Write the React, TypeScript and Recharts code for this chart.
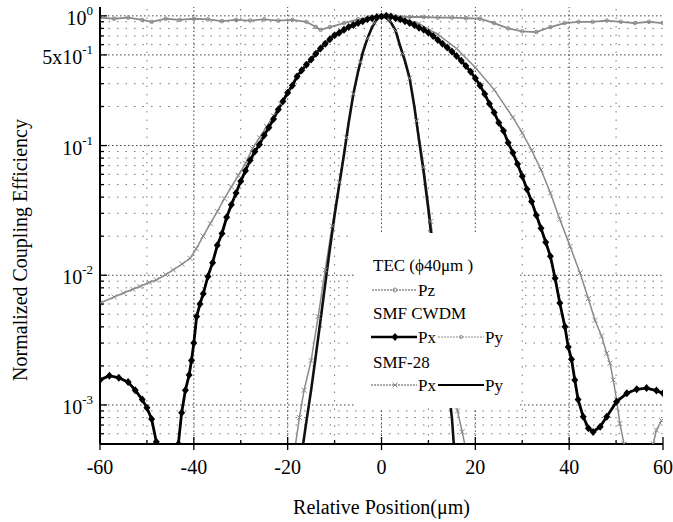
import React from "react";
import { LineChart, Line, XAxis, YAxis, ReferenceLine } from "recharts";

// [position (um), normalized coupling efficiency]
const TEC_PZ: [number, number][] = [
  [-60, 0.97], [-57, 0.95], [-54, 0.97], [-51, 0.93], [-49, 0.9], [-46, 0.95],
  [-43, 0.93], [-40, 0.95], [-37, 0.94], [-34, 0.91], [-31, 0.93], [-28, 0.92],
  [-25, 0.94], [-22, 0.92], [-19, 0.93], [-16, 0.9], [-14, 0.82], [-13, 0.78],
  [-11, 0.82], [-8, 0.88], [-5, 0.94], [-2, 0.98], [0, 1.0], [3, 0.99], [6, 0.98],
  [9, 0.98], [12, 0.97], [15, 0.97], [18, 0.96], [21, 0.95], [24, 0.88], [27, 0.8],
  [30, 0.76], [33, 0.75], [36, 0.82], [39, 0.88], [42, 0.9], [45, 0.9], [48, 0.92],
  [51, 0.9], [54, 0.88], [57, 0.9], [60, 0.88],
];

const CWDM_PX: [number, number][] = [
  [-60, 1.56e-3], [-58, 1.68e-3], [-56, 1.62e-3], [-54, 1.5e-3], [-52.5, 1.3e-3],
  [-51, 1.1e-3], [-50, 9.5e-4], [-49, 7.8e-4], [-48, 5.2e-4], [-47, 2.5e-4],
  [-45.5, 8e-5], [-44, 2.5e-4], [-43.3, 5e-4], [-42.6, 8.7e-4], [-41.8, 1.3e-3],
  [-41, 1.7e-3], [-40.5, 2.2e-3], [-40, 3.0e-3], [-39.4, 4.8e-3], [-38.7, 6e-3],
  [-38, 7.2e-3], [-37, 9.8e-3], [-36, 0.0125], [-35, 0.017], [-34, 0.021],
  [-33, 0.028], [-32, 0.035], [-31, 0.043], [-30, 0.053], [-29, 0.064],
  [-28, 0.077], [-27, 0.09], [-26, 0.102], [-25, 0.12], [-24, 0.138], [-23, 0.16],
  [-22, 0.19], [-21, 0.22], [-20, 0.255], [-19, 0.29], [-18, 0.34], [-17, 0.38],
  [-16, 0.42], [-15, 0.46], [-14, 0.51], [-13, 0.56], [-12, 0.61], [-11, 0.66],
  [-10, 0.71], [-9, 0.74], [-8, 0.78], [-7, 0.82], [-6, 0.85], [-5, 0.88],
  [-4, 0.91], [-3, 0.94], [-2, 0.96], [-1, 0.98], [0, 0.99], [1, 1.0], [2, 0.99],
  [3, 0.96], [4, 0.94], [5, 0.91], [6, 0.88], [7, 0.85], [8, 0.81], [9, 0.78],
  [10, 0.74], [11, 0.7], [12, 0.65], [13, 0.61], [14, 0.57], [15, 0.53], [16, 0.49],
  [17, 0.45], [18, 0.41], [19, 0.37], [20, 0.33], [21, 0.29], [22, 0.25], [23, 0.21],
  [24, 0.18], [25, 0.15], [26, 0.13], [27, 0.105], [28, 0.088], [29, 0.072],
  [30, 0.058], [31, 0.046], [32, 0.037], [33, 0.029], [34, 0.023], [35, 0.018],
  [36, 0.014], [37, 9.5e-3], [38, 6.1e-3], [39.1, 4.0e-3], [39.8, 2.8e-3],
  [40.5, 2.25e-3], [41.2, 1.56e-3], [41.9, 1.1e-3], [43, 8.1e-4], [44.1, 6.6e-4],
  [45.1, 6.2e-4], [46.6, 6.8e-4], [48, 8.1e-4], [50.1, 1.06e-3], [52.3, 1.23e-3],
  [54.4, 1.32e-3], [56.5, 1.35e-3], [58.6, 1.29e-3], [60, 1.23e-3],
];

const CWDM_PY: [number, number][] = [
  [-19.5, 2e-4], [-18.5, 4.5e-4], [-17.5, 8e-4], [-16.5, 1.3e-3], [-15, 2.2e-3],
  [-13.5, 4.8e-3], [-12, 0.011], [-10.5, 0.024], [-9, 0.052], [-7.5, 0.115],
  [-6, 0.25], [-4.5, 0.44], [-3, 0.67], [-1.5, 0.88], [0, 1.0], [1.5, 0.93],
  [3, 0.77], [4.5, 0.51], [6, 0.33], [7.5, 0.155], [9, 0.068], [10.5, 0.026],
  [12, 0.0095], [13.5, 3.4e-3], [15, 1.5e-3], [16.2, 9e-4], [17.2, 6.2e-4],
  [18, 4.5e-4], [19, 2e-4],
];

const SMF28_PX: [number, number][] = [
  [-60, 6.1e-3], [-57, 6.8e-3], [-55, 7.3e-3], [-53, 7.8e-3], [-51.5, 8.2e-3],
  [-49.5, 8.8e-3], [-48, 9.2e-3], [-46, 0.0101], [-44.4, 0.011], [-42.5, 0.0122],
  [-40.8, 0.0135], [-39.5, 0.016], [-38, 0.02], [-36.5, 0.025], [-35, 0.031],
  [-33.5, 0.039], [-32, 0.048], [-30.5, 0.059], [-29, 0.073], [-27.5, 0.095],
  [-26, 0.115], [-24.5, 0.14], [-23, 0.17], [-21.5, 0.21], [-20, 0.26],
  [-18, 0.34], [-16, 0.42], [-14, 0.51], [-12, 0.61], [-10, 0.71], [-8, 0.79],
  [-6, 0.86], [-4, 0.92], [-2, 0.97], [0, 0.99], [2, 1.0], [4, 0.97], [8, 0.87],
  [12, 0.72], [16, 0.56], [20, 0.4], [24, 0.27], [28, 0.165], [30, 0.125],
  [32, 0.092], [34, 0.065], [36, 0.043], [38, 0.027], [40.2, 0.0167],
  [42.3, 0.0104], [44.1, 6.6e-3], [45.5, 4.5e-3], [46.9, 3.4e-3], [48, 2.5e-3],
  [48.7, 2.1e-3], [49.4, 1.56e-3], [50.1, 1.1e-3], [50.8, 7.2e-4], [51.7, 5e-4],
  [53, 2e-4], [55, 6e-5], [57, 2.5e-4], [57.9, 5e-4], [58.6, 6.4e-4], [59.7, 7.6e-4],
];

const SMF28_PY: [number, number][] = [
  [-18, 2e-4], [-17, 4.2e-4], [-16, 7.5e-4], [-15, 1.3e-3], [-14, 2.4e-3],
  [-13, 4.5e-3], [-12, 8.5e-3], [-11, 0.016], [-10, 0.029], [-9, 0.05],
  [-8, 0.085], [-7, 0.15], [-6, 0.25], [-5, 0.37], [-4, 0.52], [-3, 0.67],
  [-2, 0.82], [-1, 0.94], [0, 1.0], [1, 0.97], [2, 0.89], [3, 0.77], [4, 0.58],
  [5, 0.45], [6, 0.33], [7, 0.2], [8, 0.11], [9, 0.062], [10, 0.032], [11, 0.015],
  [12, 8e-3], [13, 3.7e-3], [14, 1.7e-3], [15, 8e-4], [15.5, 4.5e-4], [16, 2e-4],
];

const X_TICKS = [-60, -50, -40, -30, -20, -10, 0, 10, 20, 30, 40, 50, 60];
const X_GRID_MAJOR = [-40, -20, 0, 20, 40];
const X_GRID_MINOR = [-50, -30, -10, 10, 30, 50];
const Y_GRID_MAJOR = [1, 0.5, 0.1, 0.01, 0.001];
const Y_GRID_MINOR = [
  0.9, 0.8, 0.7, 0.6, 0.4, 0.3, 0.2, 0.09, 0.08, 0.07, 0.06, 0.05, 0.04, 0.03, 0.02,
  0.009, 0.008, 0.007, 0.006, 0.005, 0.004, 0.003, 0.002, 9e-4, 8e-4, 7e-4, 6e-4,
];
const Y_TICKS = [...Y_GRID_MAJOR, ...Y_GRID_MINOR];
const Y_LABELS: Record<string, [string, string]> = {
  "1": ["10", "0"],
  "0.5": ["5x10", "-1"],
  "0.1": ["10", "-1"],
  "0.01": ["10", "-2"],
  "0.001": ["10", "-3"],
};
const Y_DOMAIN: [number, number] = [5e-4, 1.17];

const SERIF = "'Liberation Serif', 'DejaVu Serif', serif";
const GRAY = "#8a8a8a";

const toPoints = (pairs: [number, number][]) => pairs.map(([x, v]) => ({ x, v }));

function BottomTick(props: any) {
  const { x, y, payload } = props;
  const major = payload.value % 20 === 0;
  return (
    <g>
      <line x1={x} x2={x} y1={y - (major ? 7 : 4)} y2={y + (major ? 6 : 0)} stroke="#000" strokeWidth={1.3} />
      {major && (
        <text x={x} y={y + 30} textAnchor="middle" fontSize={20} fontFamily={SERIF} fill="#000">
          {payload.value}
        </text>
      )}
    </g>
  );
}

function TopTick(props: any) {
  const { x, y, payload } = props;
  const major = payload.value % 20 === 0;
  return <line x1={x} x2={x} y1={y} y2={y + (major ? 6 : 3)} stroke="#222" strokeWidth={1.2} />;
}

function LeftTick(props: any) {
  const { x, y, payload } = props;
  const lab = Y_LABELS[String(payload.value)];
  return (
    <g>
      <line x1={x} x2={x + (lab ? 7 : 4)} y1={y} y2={y} stroke="#000" strokeWidth={1.3} />
      {lab && (
        <text x={x - 7} y={y + 9} textAnchor="end" fontSize={20} fontFamily={SERIF} fill="#000">
          <tspan>{lab[0]}</tspan>
          <tspan dy={-10} fontSize={13}>{lab[1]}</tspan>
        </text>
      )}
    </g>
  );
}

function RightTick(props: any) {
  const { x, y, payload } = props;
  const major = !!Y_LABELS[String(payload.value)];
  return <line x1={x} x2={x - (major ? 6 : 3)} y1={y} y2={y} stroke="#222" strokeWidth={1.2} />;
}

const diamondDot = (p: any) => {
  const { cx, cy, index } = p;
  if (cx == null || cy == null) return <g key={index} />;
  return (
    <path key={index} d={`M${cx},${cy - 4}L${cx + 3.5},${cy}L${cx},${cy + 4}L${cx - 3.5},${cy}Z`} fill="#000" />
  );
};

const crossDot = (p: any) => {
  const { cx, cy, index } = p;
  if (cx == null || cy == null) return <g key={index} />;
  return (
    <path
      key={index}
      d={`M${cx - 2.5},${cy - 2.5}L${cx + 2.5},${cy + 2.5}M${cx - 2.5},${cy + 2.5}L${cx + 2.5},${cy - 2.5}`}
      stroke={GRAY}
      strokeWidth={1}
    />
  );
};

const ringDot = (p: any) => {
  const { cx, cy, index } = p;
  if (cx == null || cy == null) return <g key={index} />;
  return <circle key={index} cx={cx} cy={cy} r={1.8} fill="none" stroke={GRAY} strokeWidth={1} />;
};

function Legend() {
  const text = { fontSize: 17, fontFamily: SERIF, fill: "#000" };
  return (
    <svg width={163} height={175} style={{ position: "absolute", left: 355, top: 233 }}>
      <rect x={0} y={0} width={163} height={175} fill="#fff" />
      <text x={18} y={38} {...text}>TEC (ϕ40μm )</text>

      <line x1={17} x2={62} y1={57} y2={57} stroke={GRAY} strokeWidth={1.5} strokeDasharray="2 1" />
      <circle cx={40} cy={57} r={2} fill="none" stroke={GRAY} />
      <text x={63} y={63} {...text}>Pz</text>

      <text x={18} y={86} {...text}>SMF CWDM</text>

      <line x1={16} x2={62} y1={104} y2={104} stroke="#000" strokeWidth={2.5} />
      <path d="M40,100L43.5,104L40,108L36.5,104Z" fill="#000" />
      <text x={63} y={110} {...text}>Px</text>
      <line x1={83} x2={129} y1={104} y2={104} stroke={GRAY} strokeWidth={1.2} strokeDasharray="2 1" />
      <circle cx={106} cy={104} r={1.5} fill="none" stroke={GRAY} />
      <text x={130} y={110} {...text}>Py</text>

      <text x={18} y={135} {...text}>SMF-28</text>

      <line x1={16} x2={62} y1={152} y2={152} stroke={GRAY} strokeWidth={1.5} strokeDasharray="2 1" />
      <path d="M37.5,149.5L42.5,154.5M37.5,154.5L42.5,149.5" stroke={GRAY} />
      <text x={63} y={158} {...text}>Px</text>
      <line x1={83} x2={129} y1={152} y2={152} stroke="#000" strokeWidth={2.2} />
      <text x={130} y={158} {...text}>Py</text>
    </svg>
  );
}

export default function App() {
  return (
    <div style={{ position: "absolute", left: 0, top: 0, width: 673, height: 522, background: "#fff" }}>
      <LineChart width={673} height={522} margin={{ top: 7, right: 10, bottom: 18, left: 10 }}>
        <XAxis
          xAxisId="bottom"
          dataKey="x"
          type="number"
          domain={[-60, 60]}
          ticks={X_TICKS}
          interval={0}
          height={60}
          tickSize={0}
          tickMargin={0}
          tickLine={false}
          tick={<BottomTick />}
          axisLine={{ stroke: "#000", strokeWidth: 2 }}
          allowDataOverflow
        />
        <XAxis
          xAxisId="top"
          orientation="top"
          type="number"
          domain={[-60, 60]}
          ticks={X_TICKS}
          interval={0}
          height={0}
          tickSize={0}
          tickMargin={0}
          tickLine={false}
          tick={<TopTick />}
          axisLine={{ stroke: "#333", strokeWidth: 1.5 }}
          allowDataOverflow
        />
        <YAxis
          yAxisId="left"
          type="number"
          scale="log"
          domain={Y_DOMAIN}
          ticks={Y_TICKS}
          interval={0}
          width={90}
          tickSize={0}
          tickMargin={0}
          tickLine={false}
          tick={<LeftTick />}
          axisLine={{ stroke: "#000", strokeWidth: 2 }}
          allowDataOverflow
        />
        <YAxis
          yAxisId="right"
          orientation="right"
          type="number"
          scale="log"
          domain={Y_DOMAIN}
          ticks={Y_TICKS}
          interval={0}
          width={0}
          tickSize={0}
          tickMargin={0}
          tickLine={false}
          tick={<RightTick />}
          axisLine={{ stroke: "#333", strokeWidth: 1.5 }}
          allowDataOverflow
        />

        {Y_GRID_MINOR.map((v) => (
          <ReferenceLine key={`ym${v}`} xAxisId="bottom" yAxisId="left" y={v} stroke="#777" strokeDasharray="1.5 7" />
        ))}
        {X_GRID_MINOR.map((v) => (
          <ReferenceLine key={`xm${v}`} xAxisId="bottom" yAxisId="left" x={v} stroke="#777" strokeDasharray="1.5 7" />
        ))}
        {Y_GRID_MAJOR.map((v) => (
          <ReferenceLine key={`yM${v}`} xAxisId="bottom" yAxisId="left" y={v} stroke="#444" strokeDasharray="1.5 2.5" />
        ))}
        {X_GRID_MAJOR.map((v) => (
          <ReferenceLine key={`xM${v}`} xAxisId="bottom" yAxisId="left" x={v} stroke="#444" strokeDasharray="1.5 2.5" />
        ))}

        <Line
          xAxisId="bottom"
          yAxisId="left"
          data={toPoints(TEC_PZ)}
          dataKey="v"
          stroke={GRAY}
          strokeWidth={1.8}
          dot={ringDot}
          isAnimationActive={false}
        />
        <Line
          xAxisId="bottom"
          yAxisId="left"
          data={toPoints(SMF28_PX)}
          dataKey="v"
          stroke={GRAY}
          strokeWidth={1.5}
          dot={crossDot}
          isAnimationActive={false}
        />
        <Line
          xAxisId="bottom"
          yAxisId="left"
          data={toPoints(CWDM_PY)}
          dataKey="v"
          stroke={GRAY}
          strokeWidth={1.5}
          dot={crossDot}
          isAnimationActive={false}
        />
        <Line
          xAxisId="bottom"
          yAxisId="left"
          data={toPoints(SMF28_PY)}
          dataKey="v"
          stroke="#111"
          strokeWidth={2.6}
          dot={false}
          isAnimationActive={false}
        />
        <Line
          xAxisId="bottom"
          yAxisId="left"
          data={toPoints(CWDM_PX)}
          dataKey="v"
          stroke="#000"
          strokeWidth={2.8}
          dot={diamondDot}
          isAnimationActive={false}
        />
      </LineChart>

      <Legend />

      <div
        style={{
          position: "absolute",
          left: 100,
          top: 496,
          width: 563,
          textAlign: "center",
          fontFamily: SERIF,
          fontSize: 20,
          lineHeight: "22px",
          color: "#000",
        }}
      >
        Relative Position(μm)
      </div>
      <div
        style={{
          position: "absolute",
          left: 20 - 200,
          top: 250 - 11,
          width: 400,
          height: 22,
          lineHeight: "22px",
          textAlign: "center",
          fontFamily: SERIF,
          fontSize: 20,
          color: "#000",
          transform: "rotate(-90deg)",
        }}
      >
        Normalized Coupling Efficiency
      </div>
    </div>
  );
}
